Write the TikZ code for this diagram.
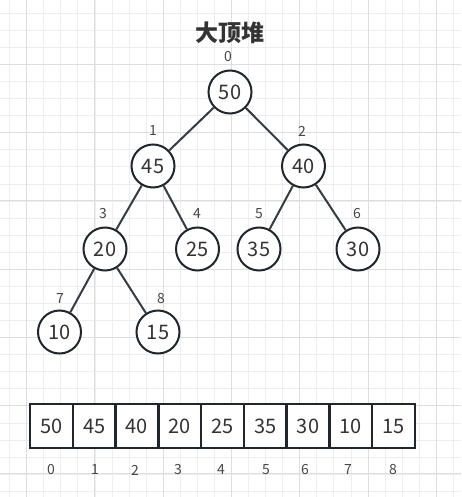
\documentclass[tikz,border=0pt]{standalone}
\usepackage{fontspec}
\setmainfont{Noto Sans CJK SC}
\definecolor{gridminor}{HTML}{EEEEEE}
\definecolor{gridmajor}{HTML}{DEDEDE}
\definecolor{stroke}{HTML}{1F262D}
\definecolor{txt}{HTML}{333333}
\tikzset{
  gmin/.style={draw=gridminor, line width=0.9pt},
  gmaj/.style={draw=gridmajor, line width=1pt},
  circ/.style={circle, draw=stroke, line width=2pt, fill=white, minimum size=43pt, inner sep=0pt, text=txt, font=\fontsize{20}{24}\selectfont},
  cell/.style={rectangle, draw=stroke, line width=2.5pt, fill=white, minimum width=42.78pt, minimum height=44pt, inner sep=0pt, text=txt, font=\fontsize{20}{24}\selectfont},
  idx/.style={text=txt!90, inner sep=0pt, font=\fontsize{14}{16}\selectfont},
  edge/.style={draw=stroke!90, line width=2pt},
  ttl/.style={text=txt, inner sep=0pt, font=\fontsize{23}{26}\selectfont\bfseries}
}
\begin{document}
\begin{tikzpicture}[x=1pt, y=-1pt]
\useasboundingbox[fill=white] (0,0) rectangle (461,497);
% grid
\foreach \k in {0,...,26} \draw[gmin] ({9.6+17.07*\k},0) -- ({9.6+17.07*\k},497);
\foreach \k in {0,...,28} \draw[gmin] (0,{13.3+17.07*\k}) -- (461,{13.3+17.07*\k});
\foreach \k in {0,...,6} \draw[gmaj] ({26.67+68.28*\k},0) -- ({26.67+68.28*\k},497);
\foreach \k in {0,...,6} \draw[gmaj] (0,{64.3+68.28*(\k-0)}) -- (461,{64.3+68.28*(\k-0)});
% title
\node[ttl] (title) at (230,33) {大顶堆};
% tree nodes
\node[circ] (n0) at (230,92) {50};
\node[circ] (n1) at (153,166) {45};
\node[circ] (n2) at (303.5,166) {40};
\node[circ] (n3) at (105,249) {20};
\node[circ] (n4) at (197.5,249) {25};
\node[circ] (n5) at (259,249) {35};
\node[circ] (n6) at (358,249) {30};
\node[circ] (n7) at (59.5,332) {10};
\node[circ] (n8) at (158,332) {15};
% edges
\draw[edge] (n0) -- (n1);
\draw[edge] (n0) -- (n2);
\draw[edge] (n1) -- (n3);
\draw[edge] (n1) -- (n4);
\draw[edge] (n2) -- (n5);
\draw[edge] (n2) -- (n6);
\draw[edge] (n3) -- (n7);
\draw[edge] (n3) -- (n8);
% tree index labels
\node[idx] (l0) at (228,57) {0};
\node[idx] (l1) at (153,131) {1};
\node[idx] (l2) at (302,131) {2};
\node[idx] (l3) at (103,214) {3};
\node[idx] (l4) at (197,214) {4};
\node[idx] (l5) at (259,214) {5};
\node[idx] (l6) at (357,214) {6};
\node[idx] (l7) at (60,299) {7};
\node[idx] (l8) at (161,299) {8};
% array
\foreach \v [count=\i from 0] in {50,45,40,20,25,35,30,10,15}
  \node[cell] (a\i) at ({30+42.78*(\i+0.5)},426) {\v};
\foreach \xx [count=\i from 0] in {51,95,135,178,221,266,305,348,393}
  \node[idx] (b\i) at (\xx,470) {\i};
\end{tikzpicture}
\end{document}
